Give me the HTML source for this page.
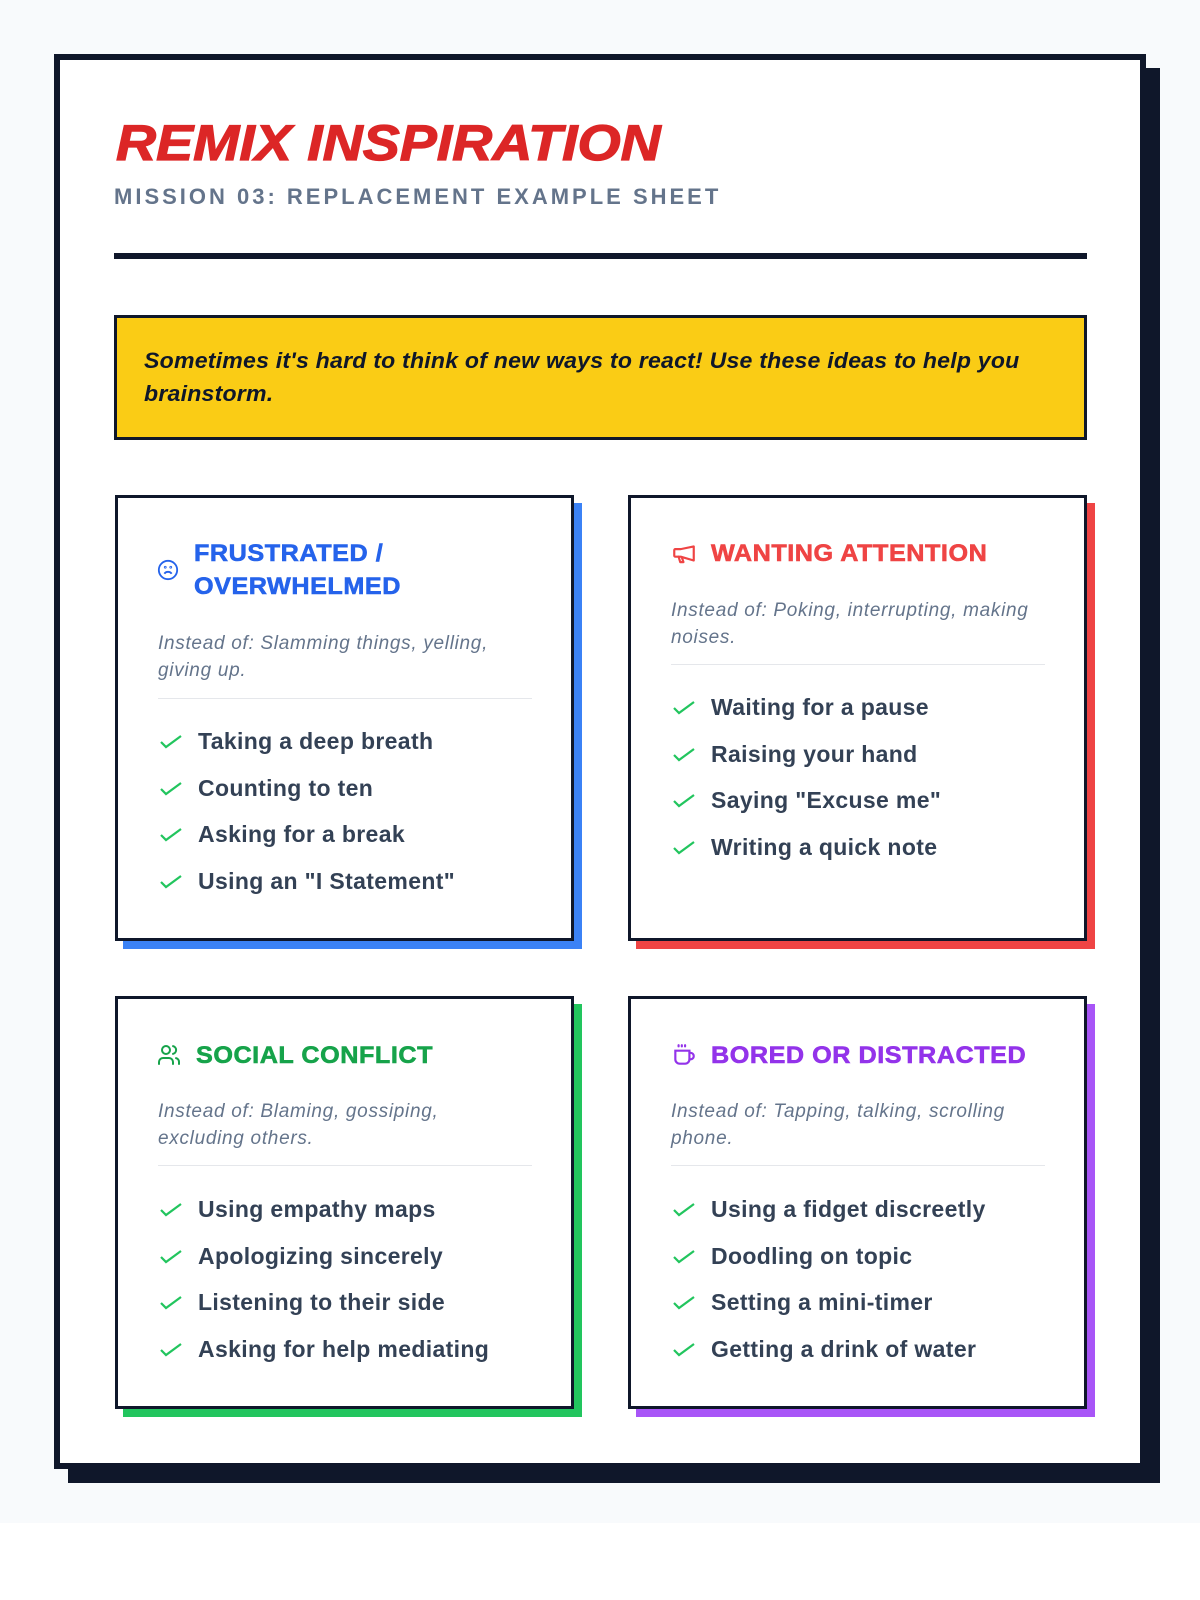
<!DOCTYPE html>
<html><head><meta charset="utf-8"><style>
*{margin:0;padding:0;box-sizing:border-box}
body{width:1200px;height:1600px;background:#fff;position:relative;font-family:"Liberation Sans",sans-serif;overflow:hidden}
.bg{position:absolute;left:0;top:0;width:1200px;height:1523px;background:#f8fafc}
.shadow{position:absolute;left:68px;top:68px;width:1092px;height:1415px;background:#0f172a}
.frame{position:absolute;left:54px;top:54px;width:1092px;height:1415px;background:#fff;border:6px solid #0f172a}
.abs{position:absolute;white-space:nowrap}
.title{left:116px;top:114px;font-size:50px;font-weight:900;font-style:italic;color:#dc2626;letter-spacing:0px;transform:scaleX(1.11);transform-origin:left;-webkit-text-stroke:1.2px #dc2626}
.sub{left:114px;top:184px;font-size:22px;font-weight:bold;color:#64748b;letter-spacing:3px}
.rule{position:absolute;left:114px;top:253px;width:973px;height:6px;background:#0f172a}
.yellow{position:absolute;left:114px;top:315px;width:973px;height:125px;background:#facc15;border:3px solid #0f172a}
.ytxt{left:144px;top:344px;font-size:22px;font-weight:bold;font-style:italic;color:#0f172a;line-height:33px;letter-spacing:0.2px;transform:scaleX(1.05);transform-origin:left}
.card{position:absolute;width:459px;background:#fff;border:3px solid #0f172a}
.cs{position:absolute;width:459px}
.h{font-size:24px;font-weight:900;letter-spacing:0.5px;line-height:33px;transform:scaleX(1.05);transform-origin:left;-webkit-text-stroke:0.6px currentColor}
.ins{font-size:19px;font-style:italic;color:#64748b;line-height:27px;letter-spacing:0.7px}
.div{position:absolute;height:1px;background:#e5e7eb;width:374px}
.item{font-size:23px;font-weight:bold;color:#334155;letter-spacing:0.35px}
.chk{position:absolute;width:22px;height:14px}
</style></head><body>
<div class="bg"></div>
<div class="shadow"></div>
<div class="frame"></div>
<div class="abs title">REMIX INSPIRATION</div>
<div class="abs sub">MISSION 03: REPLACEMENT EXAMPLE SHEET</div>
<div class="rule"></div>
<div class="yellow"></div>
<div class="abs ytxt">Sometimes it's hard to think of new ways to react! Use these ideas to help you<br>brainstorm.</div>

<!-- card 1 -->
<div class="cs" style="left:123px;top:503px;height:446px;background:#3b82f6"></div>
<div class="card" style="left:115px;top:495px;height:446px"></div>
<svg class="abs" style="left:157px;top:559px" width="22" height="22" viewBox="0 0 24 24" fill="none" stroke="#2563eb" stroke-width="2"><circle cx="12" cy="12" r="10"/><path d="M16 16s-1.5-2-4-2-4 2-4 2"/><circle cx="9" cy="9" r=".5"/><circle cx="15" cy="9" r=".5"/></svg>
<div class="abs h" style="left:194px;top:537px;color:#2563eb">FRUSTRATED /<br>OVERWHELMED</div>
<div class="abs ins" style="left:158px;top:630px">Instead of: Slamming things, yelling,<br>giving up.</div>
<div class="div" style="left:158px;top:698px"></div>

<!-- card 2 -->
<div class="cs" style="left:636px;top:503px;height:446px;background:#ef4444"></div>
<div class="card" style="left:628px;top:495px;height:446px"></div>
<svg class="abs" style="left:671px;top:541px" width="26" height="26" viewBox="0 0 24 24" fill="none" stroke="#ef4444" stroke-width="2" stroke-linejoin="round" stroke-linecap="round"><path d="M21 5v13l-12-3.5H4a1 1 0 0 1-1-1v-5a1 1 0 0 1 1-1h5z"/><path d="M7 14.5l1.5 5h3l-1.5-4.5"/></svg>
<div class="abs h" style="left:711px;top:537px;color:#ef4444">WANTING ATTENTION</div>
<div class="abs ins" style="left:671px;top:597px">Instead of: Poking, interrupting, making<br>noises.</div>
<div class="div" style="left:671px;top:664px"></div>

<!-- card 3 -->
<div class="cs" style="left:123px;top:1004px;height:413px;background:#22c55e"></div>
<div class="card" style="left:115px;top:996px;height:413px"></div>
<svg class="abs" style="left:157px;top:1043px" width="24" height="24" viewBox="0 0 24 24" fill="none" stroke="#16a34a" stroke-width="2" stroke-linecap="round"><circle cx="9" cy="7" r="4"/><path d="M2 21v-2a4 4 0 0 1 4-4h6a4 4 0 0 1 4 4v2"/><path d="M16 3.1a4 4 0 0 1 0 7.8M22 21v-2a4 4 0 0 0-3-3.9"/></svg>
<div class="abs h" style="left:196px;top:1039px;color:#16a34a">SOCIAL CONFLICT</div>
<div class="abs ins" style="left:158px;top:1098px">Instead of: Blaming, gossiping,<br>excluding others.</div>
<div class="div" style="left:158px;top:1165px"></div>

<!-- card 4 -->
<div class="cs" style="left:636px;top:1004px;height:413px;background:#a855f7"></div>
<div class="card" style="left:628px;top:996px;height:413px"></div>
<svg class="abs" style="left:671px;top:1042px" width="26" height="26" viewBox="0 0 24 24" fill="none" stroke="#9333ea" stroke-width="2" stroke-linecap="round"><path d="M4 8h13v8a4 4 0 0 1-4 4H8a4 4 0 0 1-4-4z"/><path d="M17 10h1a3 3 0 0 1 0 6h-1"/><path d="M7 3v1M10 3v1M13 3v1"/></svg>
<div class="abs h" style="left:711px;top:1039px;color:#9333ea">BORED OR DISTRACTED</div>
<div class="abs ins" style="left:671px;top:1098px">Instead of: Tapping, talking, scrolling<br>phone.</div>
<div class="div" style="left:671px;top:1165px"></div>

<div id="items"></div>
<script>
var L=[[160,198,742,["Taking a deep breath","Counting to ten","Asking for a break","Using an \"I Statement\""]],
[673,711,708,["Waiting for a pause","Raising your hand","Saying \"Excuse me\"","Writing a quick note"]],
[160,198,1210,["Using empathy maps","Apologizing sincerely","Listening to their side","Asking for help mediating"]],
[673,711,1210,["Using a fidget discreetly","Doodling on topic","Setting a mini-timer","Getting a drink of water"]]];
var h="";
L.forEach(function(c){c[3].forEach(function(t,i){var y=c[2]+i*46.5;
h+='<svg class="chk" style="left:'+c[0]+'px;top:'+(y-7)+'px" viewBox="0 0 22 14" fill="none" stroke="#22c55e" stroke-width="2.2"><path d="M1 7l5 5L21 1"/></svg>';
h+='<div class="abs item" style="left:'+c[1]+'px;top:'+(y-14)+'px">'+t.replace(/"/g,'&quot;')+'</div>';});});
document.getElementById('items').innerHTML=h;
</script>
</body></html>
